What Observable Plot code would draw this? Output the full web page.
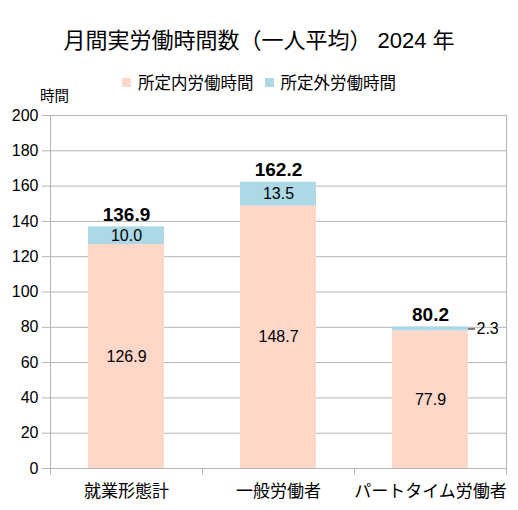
<!DOCTYPE html>
<html lang="ja">
<head>
<meta charset="UTF-8">
<script src="https://cdn.jsdelivr.net/npm/d3@7"></script>
<script src="https://cdn.jsdelivr.net/npm/@observablehq/plot@0.6"></script>
<style>
  body { margin: 0; background: white; font-family: "Liberation Sans", "Noto Sans CJK JP", sans-serif; }
  #wrap { position: relative; width: 518px; height: 510px; }
  #titre { position: absolute; top: 22px; left: 0; width: 518px; text-align: center; font-size: 22px; color: #000; }
  #legende { position: absolute; top: 70px; left: 0; width: 518px; display: flex; justify-content: center; gap: 11px; font-size: 16.5px; }
  #legende span { display: flex; align-items: center; gap: 7px; }
  #legende i { display: inline-block; width: 9px; height: 9px; }
  #unite { position: absolute; top: 84px; left: 40px; font-size: 14.5px; }
  #graphique { position: absolute; top: 0; left: 0; }
</style>
</head>
<body>
<div id="wrap">
  <div id="graphique"></div>
  <div id="titre">月間実労働時間数（一人平均） 2024 年</div>
  <div id="legende"></div>
  <div id="unite">時間</div>
</div>
<script>
// donnees
const categories = ["就業形態計", "一般労働者", "パートタイム労働者"];
const series = ["所定内労働時間", "所定外労働時間"];
const couleurs = ["#ffd7c9", "#add8e6"];
const interne = [126.9, 148.7, 77.9];
const externe = [10.0, 13.5, 2.3];
const totaux = [136.9, 162.2, 80.2];
const ticksY = [0, 20, 40, 60, 80, 100, 120, 140, 160, 180, 200];

const lignes = categories.flatMap((c, i) => [
  {cat: c, type: series[0], val: interne[i], bas: 0},
  {cat: c, type: series[1], val: externe[i], bas: interne[i]}
]);
const sommes = categories.map((c, i) => ({cat: c, total: totaux[i]}));

const legende = document.querySelector("#legende");
series.forEach((s, i) => {
  const e = document.createElement("span");
  e.innerHTML = `<i style="background:${couleurs[i]}"></i>${s}`;
  legende.append(e);
});

const gris = "#b3b3b3";
const police = "'Liberation Sans','Noto Sans CJK JP',sans-serif";
const petits = lignes.filter(d => d.val < 5);

const plot = Plot.plot({
  width: 518,
  height: 510,
  marginTop: 115,
  marginBottom: 42,
  marginLeft: 50,
  marginRight: 12,
  style: {fontFamily: police, color: "black", background: "white"},
  x: {domain: categories, padding: 0, label: null},
  y: {domain: [0, 200], label: null},
  color: {domain: series, range: couleurs},
  marks: [
    Plot.gridY(ticksY, {stroke: gris, strokeOpacity: 1}),
    Plot.barY(lignes, Plot.stackY({x: "cat", y: "val", fill: "type", order: series, insetLeft: 38, insetRight: 38})),
    Plot.frame({stroke: gris}),
    // petits traits sous l'axe aux limites des categories
    Plot.ruleX(categories, {x: d => d, dx: -76, y1: 0, y2: -3.5, stroke: gris}),
    Plot.ruleX([categories[categories.length - 1]], {x: d => d, dx: 76, y1: 0, y2: -3.5, stroke: gris}),
    Plot.axisY({ticks: ticksY, tickSize: 8, tickPadding: 4, fontSize: 16, stroke: gris, fill: "black"}),
    Plot.axisX({tickSize: 0, tickPadding: 16, fontSize: 17, fill: "black"}),
    // etiquettes dans les barres
    Plot.text(lignes.filter(d => d.val >= 5), {x: "cat", y: d => d.bas + d.val / 2, text: d => d.val.toFixed(1), fontSize: 16, fill: "black"}),
    // petite valeur a droite avec un trait
    Plot.tickY(petits, {x: "cat", y: d => d.bas + d.val / 2, insetLeft: 114, insetRight: 31, stroke: "black", strokeWidth: 1}),
    Plot.text(petits, {x: "cat", y: d => d.bas + d.val / 2, text: d => d.val.toFixed(1), dx: 46, textAnchor: "start", fontSize: 16, fill: "black"}),
    Plot.text(sommes, {x: "cat", y: "total", text: d => d.total.toFixed(1), lineAnchor: "bottom", dy: -6, fontSize: 19, fontWeight: "bold", fill: "black"})
  ]
});

document.querySelector("#graphique").append(plot);
</script>
</body>
</html>
